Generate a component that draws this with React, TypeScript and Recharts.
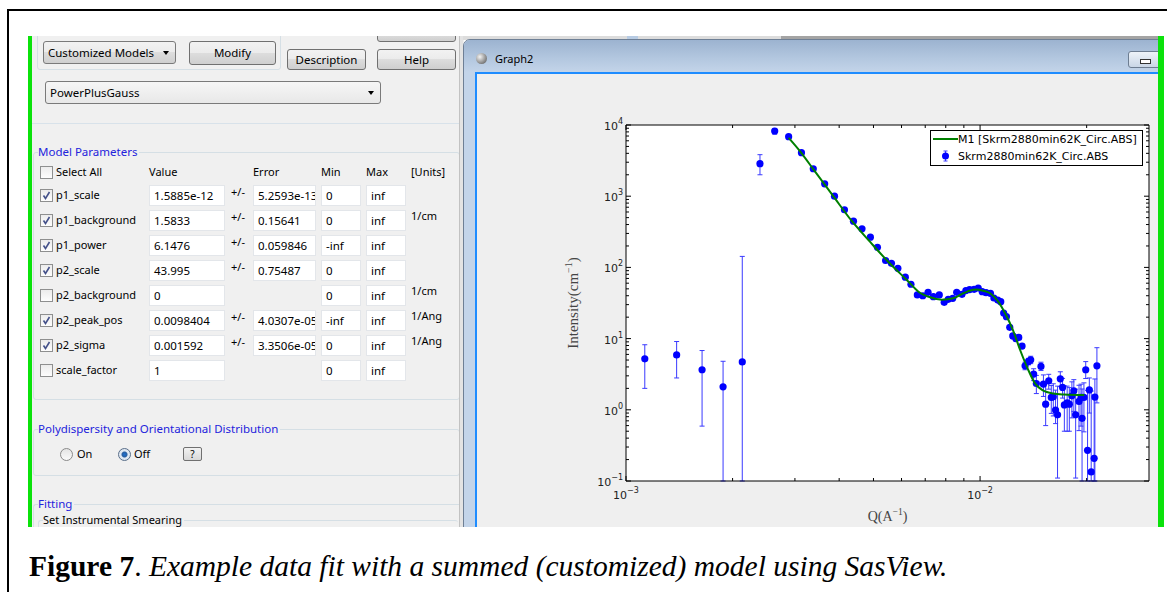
import React from "react";
import { ScatterChart, Scatter, XAxis, YAxis, ErrorBar, CartesianGrid, Legend } from "recharts";

// measured data: Q (1/A), intensity (1/cm), lower / upper error
const qValues = [
  0.00113, 0.00139, 0.00164, 0.00188, 0.00213, 0.00239, 0.00263, 0.00288, 0.00313, 0.00338,
  0.00364, 0.00388, 0.00414, 0.00439, 0.00464, 0.0049, 0.00513, 0.00541, 0.00562, 0.00586,
  0.00615, 0.00638, 0.00665, 0.00689, 0.00713, 0.00738, 0.00767, 0.00792, 0.00813, 0.00837,
  0.00859, 0.00889, 0.00912, 0.00934, 0.00962, 0.00988, 0.01014, 0.0104, 0.0107, 0.01094,
  0.01122, 0.01144, 0.01166, 0.01187, 0.01213, 0.01237, 0.01262, 0.01286, 0.01314, 0.0134,
  0.0137, 0.0139, 0.01417, 0.01442, 0.01486, 0.0151, 0.01532, 0.01563, 0.01589, 0.0161,
  0.01634, 0.01655, 0.01685, 0.0171, 0.0173, 0.01762, 0.01787, 0.01817, 0.0184, 0.01862,
  0.01903, 0.01928, 0.01941, 0.01965, 0.01988, 0.02012, 0.02035, 0.0206, 0.021, 0.0211,
  0.02138,
];
const intensity = [
  5.2, 5.9, 3.65, 2.1, 4.7, 2860, 8240, 6850, 4080, 2430,
  1490, 1000, 645, 446, 348, 266, 192, 125, 114, 97,
  73, 58, 41, 40, 44.7, 38.8, 41, 32.3, 35.6, 36.8,
  44.7, 41.9, 47.2, 48.8, 49.2, 51.4, 45.6, 44.2, 43.2, 37.2,
  34.8, 33.0, 22.9, 20.3, 14.4, 10.9, 10.0, 10.4, 7.85, 4.15,
  4.78, 5.05, 3.17, 2.34, 4.06, 2.29, 1.2, 2.55, 1.49, 1.52,
  0.99, 0.85, 2.72, 2.06, 1.17, 1.25, 1.2, 1.57, 1.85, 0.85,
  1.31, 1.49, 0.76, 1.49, 3.65, 0.27, 1.9, 0.134, 0.208, 1.51,
  4.15,
];
// bars that run off the bottom of the axes stop at its lower limit (0.1)
const errLow = [
  3.2, 3.1, 3.06, 2.0, 4.6, 860, 800, 300, 180, 100,
  60, 40, 25, 18, 14, 10, 8, 5, 5, 4,
  3, 2.5, 2, 2, 2, 1.8, 1.8, 1.6, 1.6, 1.6,
  1.8, 1.8, 1.9, 1.9, 1.9, 2, 1.8, 1.8, 1.8, 1.6,
  1.5, 1.5, 1.2, 1.1, 0.9, 0.7, 0.7, 0.7, 0.6, 0.5,
  0.5, 0.6, 0.6, 0.65, 0.5, 0.75, 0.6, 0.6, 0.6, 0.7,
  0.35, 0.74, 0.6, 0.6, 0.67, 0.75, 0.7, 0.8, 0.9, 0.74,
  0.8, 0.9, 0.66, 1.0, 0.9, 0.17, 1.0, 0.034, 0.108, 1.41,
  2.9,
];
const errHigh = [
  3.0, 3.2, 3.15, 2.7, 138, 970, 700, 300, 180, 100,
  60, 40, 25, 18, 14, 10, 8, 5, 5, 4,
  3, 2.5, 2, 2, 2, 1.8, 1.8, 1.6, 1.6, 1.6,
  1.8, 1.8, 1.9, 1.9, 1.9, 2, 1.8, 1.8, 1.8, 1.6,
  1.5, 1.5, 1.2, 1.1, 0.9, 0.7, 0.7, 0.7, 0.6, 0.5,
  0.5, 0.6, 0.6, 0.7, 0.6, 0.8, 1.2, 0.6, 0.7, 0.8,
  0.9, 1.3, 0.7, 0.7, 1.0, 0.9, 0.85, 0.9, 0.8, 1.1,
  0.9, 0.8, 1.2, 0.9, 1.1, 1.6, 0.9, 1.7, 1.4, 1.2,
  3.3,
];

// model curve M1
const fitQ = [
  0.00288, 0.00313, 0.0034, 0.00384, 0.00433, 0.0049, 0.00552, 0.00624, 0.0067, 0.00723,
  0.0078, 0.0084, 0.009, 0.0097, 0.0102, 0.0107, 0.0112, 0.0118, 0.0124, 0.013,
  0.01365, 0.0143, 0.015, 0.0161, 0.0173, 0.0197,
];
const fitI = [
  6600, 4040, 2300, 1020, 456, 226, 118, 65, 45.6, 38,
  35.2, 36.8, 43.7, 48.8, 47, 43, 34.1, 22.1, 12.9, 6.75,
  3.73, 2.35, 1.89, 1.69, 1.64, 1.61,
];

const xTicks = [0.001, 0.002, 0.003, 0.004, 0.005, 0.006, 0.007, 0.008, 0.009, 0.01, 0.02];
const yTicks = [
  0.1, 0.2, 0.3, 0.4, 0.5, 0.6, 0.7, 0.8, 0.9,
  1, 2, 3, 4, 5, 6, 7, 8, 9,
  10, 20, 30, 40, 50, 60, 70, 80, 90,
  100, 200, 300, 400, 500, 600, 700, 800, 900,
  1000, 2000, 3000, 4000, 5000, 6000, 7000, 8000, 9000, 10000,
];

const legendFit = "M1 [Skrm2880min62K_Circ.ABS]";
const legendData = "Skrm2880min62K_Circ.ABS";

const points = qValues.map((q, k) => ({ q, intensity: intensity[k], err: [errLow[k], errHigh[k]] }));
const fit = fitQ.map((q, k) => ({ q, intensity: fitI[k] }));

const TM = 8;
const TICK_FONT = "'DejaVu Sans', sans-serif";
const isDecade = (v: number) => Math.abs(Math.log10(v) - Math.round(Math.log10(v))) < 1e-6;
const expOf = (v: number) => {
  const e = Math.round(Math.log10(v));
  return e < 0 ? "\u2212" + Math.abs(e) : String(e);
};

function BottomTick(props: any) {
  const { x, y, payload } = props;
  const base = y - TM;
  const major = isDecade(payload.value);
  return (
    <g>
      <line x1={x} x2={x} y1={base} y2={base - (major ? 5 : 3)} stroke="#000" />
      {major ? (
        <text x={x} y={base + 18} textAnchor="middle" fontFamily={TICK_FONT} fontSize={11} fill="#222">
          <tspan>10</tspan>
          <tspan dy={-6} fontSize={8}>{expOf(payload.value)}</tspan>
        </text>
      ) : null}
    </g>
  );
}

function LeftTick(props: any) {
  const { x, y, payload } = props;
  const base = x + TM;
  const major = isDecade(payload.value);
  return (
    <g>
      <line x1={base} x2={base + (major ? 5 : 3)} y1={y} y2={y} stroke="#000" />
      {major ? (
        <text x={base - 3} y={y + 5} textAnchor="end" fontFamily={TICK_FONT} fontSize={11} fill="#222">
          <tspan>10</tspan>
          <tspan dy={-6} fontSize={8}>{expOf(payload.value)}</tspan>
        </text>
      ) : null}
    </g>
  );
}

function TopTick(props: any) {
  const { x, y, payload } = props;
  const base = y + TM;
  const major = isDecade(payload.value);
  return <line x1={x} x2={x} y1={base} y2={base + (major ? 5 : 3)} stroke="#000" />;
}

function RightTick(props: any) {
  const { x, y, payload } = props;
  const base = x - TM;
  const major = isDecade(payload.value);
  return <line x1={base} x2={base - (major ? 5 : 3)} y1={y} y2={y} stroke="#000" />;
}

function YTitle(props: any) {
  const vb = props.viewBox || { x: 0, y: 25, width: 86, height: 356 };
  const cx = vb.x + 38;
  const cy = vb.y + vb.height / 2;
  return (
    <text x={cx} y={cy} textAnchor="middle" transform={`rotate(-90 ${cx} ${cy})`}
      fontFamily="'Liberation Serif', serif" fontSize={15} fill="#444">
      <tspan>Intensity(cm</tspan>
      <tspan dy={-6} fontSize={10}>{"\u22121"}</tspan>
      <tspan dy={6}>)</tspan>
    </text>
  );
}

function XTitle(props: any) {
  const vb = props.viewBox || { x: 86, y: 381, width: 523, height: 49 };
  const cx = vb.x + vb.width / 2;
  return (
    <text x={cx} y={vb.y + 40} textAnchor="middle" fontFamily="'Liberation Serif', serif" fontSize={14} fill="#444">
      <tspan>Q(A</tspan>
      <tspan dy={-6} fontSize={9.5}>{"\u22121"}</tspan>
      <tspan dy={6}>)</tspan>
    </text>
  );
}

function LegendBox() {
  return (
    <div style={{ width: 213, height: 36, boxSizing: "border-box", border: "1px solid #000", background: "#fff",
      fontFamily: TICK_FONT, fontSize: 11, color: "#000", position: "relative" }}>
      <svg width={30} height={34} style={{ position: "absolute", left: 0, top: 0 }}>
        <line x1={2} x2={27} y1={8} y2={8} stroke="#008000" strokeWidth={2} />
        <line x1={14.5} x2={14.5} y1={20} y2={30} stroke="#3a3aff" />
        <line x1={12.5} x2={16.5} y1={20} y2={20} stroke="#3a3aff" />
        <line x1={12.5} x2={16.5} y1={30} y2={30} stroke="#3a3aff" />
        <circle cx={14.5} cy={25} r={3.5} fill="#0000ff" />
      </svg>
      <div style={{ position: "absolute", left: 27, top: 0, lineHeight: "17px", whiteSpace: "nowrap" }}>{legendFit}</div>
      <div style={{ position: "absolute", left: 27, top: 17, lineHeight: "17px", whiteSpace: "nowrap" }}>{legendData}</div>
    </div>
  );
}

function SasChart() {
  return (
    <ScatterChart width={615} height={430} margin={{ top: 20, right: 1, bottom: 0, left: 0 }}>
      <CartesianGrid fill="#fff" stroke="none" horizontal={false} vertical={false} />
      <XAxis dataKey="q" type="number" scale="log" domain={[0.001, 0.03]} allowDataOverflow ticks={xTicks}
        interval={0} height={49} tickSize={0} tickMargin={TM} tickLine={false} tick={BottomTick}
        axisLine={{ stroke: "#000" }} label={XTitle} />
      <XAxis xAxisId="top" orientation="top" dataKey="q" type="number" scale="log" domain={[0.001, 0.03]}
        allowDataOverflow ticks={xTicks} interval={0} height={5} tickSize={0} tickMargin={TM} tickLine={false}
        tick={TopTick} axisLine={{ stroke: "#000" }} />
      <YAxis dataKey="intensity" type="number" scale="log" domain={[0.1, 10000]} allowDataOverflow ticks={yTicks}
        interval={0} width={86} tickSize={0} tickMargin={TM} tickLine={false} tick={LeftTick}
        axisLine={{ stroke: "#000" }} label={YTitle} />
      <YAxis yAxisId="right" orientation="right" dataKey="intensity" type="number" scale="log" domain={[0.1, 10000]}
        allowDataOverflow ticks={yTicks} interval={0} width={5} tickSize={0} tickMargin={TM} tickLine={false}
        tick={RightTick} axisLine={{ stroke: "#000" }} />
      <Legend layout="vertical" align="center" verticalAlign="middle" content={LegendBox}
        wrapperStyle={{ position: "absolute", left: 390, top: 30, width: 213, height: 36, margin: 0 }} />
      <Scatter name={legendData} data={points} isAnimationActive={false}
        shape={(p: any) => <circle cx={p.cx} cy={p.cy} r={3.6} fill="#0000ff" />}>
        <ErrorBar dataKey="err" direction="y" width={2.5} stroke="#3a3aff" strokeWidth={1} />
      </Scatter>
      <Scatter name={legendFit} data={fit} isAnimationActive={false} lineJointType="monotoneX"
        line={{ stroke: "#008000", strokeWidth: 2 }} shape={() => <g />} />
    </ScatterChart>
  );
}

// ---------- window chrome around the chart ----------
const UI_FONT = "'Noto Sans', sans-serif";
const BLUE_TITLE = "#2323dc";

function Box({ x, y, w, h, style, children }: any) {
  return (
    <div style={{ position: "absolute", left: x, top: y, width: w, height: h, boxSizing: "border-box", ...style }}>
      {children}
    </div>
  );
}

function Txt({ x, y, children, color = "#000", size = 11, style }: any) {
  return (
    <div style={{ position: "absolute", left: x, top: y - 8, height: 16, lineHeight: "16px", fontSize: size,
      fontFamily: UI_FONT, color, whiteSpace: "nowrap", ...style }}>
      {children}
    </div>
  );
}

function Button({ x, y, w, h, label }: any) {
  return (
    <Box x={x} y={y} w={w} h={h} style={{ border: "1px solid #707070", borderRadius: 3,
      background: "linear-gradient(#f2f2f2, #ebebeb 50%, #dddddd 50%, #cfcfcf)", textAlign: "center",
      lineHeight: h - 2 + "px", fontFamily: UI_FONT, fontSize: 11.5 }}>
      {label}
    </Box>
  );
}

function Combo({ x, y, w, h, label, grad }: any) {
  return (
    <Box x={x} y={y} w={w} h={h} style={{ border: "1px solid #7a7a7a", borderRadius: 3,
      background: grad ? "linear-gradient(#f2f2f2, #ebebeb 50%, #dddddd 50%, #cfcfcf)" : "linear-gradient(#f6f6f6, #e8e8e8)",
      fontFamily: UI_FONT, fontSize: 11.5, lineHeight: h - 2 + "px", paddingLeft: 4 }}>
      {label}
      <div style={{ position: "absolute", right: 6, top: (h - 2) / 2 - 2, width: 0, height: 0,
        borderLeft: "3.5px solid transparent", borderRight: "3.5px solid transparent", borderTop: "4px solid #000" }} />
    </Box>
  );
}

function Check({ x, y, on }: any) {
  return (
    <Box x={x} y={y - 6} w={13} h={13} style={{ border: "1px solid #8e8f8f", background: "linear-gradient(#ececec, #fdfdfd)" }}>
      {on ? (
        <svg width={11} height={11} style={{ position: "absolute", left: 0, top: 0 }}>
          <polyline points="2.5,5.5 4.5,8.5 8.5,2" fill="none" stroke="#44518a" strokeWidth={1.6} />
        </svg>
      ) : null}
    </Box>
  );
}

function Field({ x, y, w, text }: any) {
  return (
    <Box x={x} y={y - 10} w={w} h={21} style={{ border: "1px solid #e3e6ea", background: "#fff", overflow: "hidden",
      fontFamily: UI_FONT, fontSize: 11.5, lineHeight: "19px", paddingLeft: 4, whiteSpace: "nowrap" }}>
      {text}
    </Box>
  );
}

function Group({ x, y, w, h, title }: any) {
  return (
    <>
      <Box x={x} y={y} w={w} h={h} style={{ border: "1px solid #d5dfe5", borderRadius: 3 }} />
      {title ? (
        <Txt x={x + 5} y={y} color={BLUE_TITLE} size={11.5} style={{ background: "#f0f0f0", paddingRight: 2 }}>{title}</Txt>
      ) : null}
    </>
  );
}

const params = [
  { name: "p1_scale", on: true, value: "1.5885e-12", err: "5.2593e-13", min: "0", max: "inf", unit: "" },
  { name: "p1_background", on: true, value: "1.5833", err: "0.15641", min: "0", max: "inf", unit: "1/cm" },
  { name: "p1_power", on: true, value: "6.1476", err: "0.059846", min: "-inf", max: "inf", unit: "" },
  { name: "p2_scale", on: true, value: "43.995", err: "0.75487", min: "0", max: "inf", unit: "" },
  { name: "p2_background", on: false, value: "0", err: "", min: "0", max: "inf", unit: "1/cm" },
  { name: "p2_peak_pos", on: true, value: "0.0098404", err: "4.0307e-05", min: "-inf", max: "inf", unit: "1/Ang" },
  { name: "p2_sigma", on: true, value: "0.001592", err: "3.3506e-05", min: "0", max: "inf", unit: "1/Ang" },
  { name: "scale_factor", on: false, value: "1", err: "", min: "0", max: "inf", unit: "" },
];

function LeftPanel() {
  return (
    <>
      <Box x={28} y={36} w={436} h={491} style={{ background: "#f0f0f0" }} />
      <Group x={37} y={28} w={244} h={42} />
      <Combo x={43} y={41} w={133} h={23} label="Customized Models" grad />
      <Button x={189} y={41} w={87} h={24} label="Modify" />
      <Button x={287} y={49} w={79} h={21} label="Description" />
      <Button x={377} y={27} w={79} h={15} label="" />
      <Button x={377} y={49} w={79} h={21} label="Help" />
      <Combo x={45} y={81} w={336} h={23} label="PowerPlusGauss" />
      <Box x={32} y={123} w={431} h={1} style={{ background: "#d8e2ea" }} />

      <Group x={33} y={152} w={427} h={248} title="Model Parameters" />
      <Check x={40} y={172} on={false} />
      <Txt x={56} y={172}>Select All</Txt>
      <Txt x={149} y={172}>Value</Txt>
      <Txt x={253} y={172}>Error</Txt>
      <Txt x={321} y={172}>Min</Txt>
      <Txt x={366} y={172}>Max</Txt>
      <Txt x={411} y={172}>[Units]</Txt>
      {params.map((p, k) => {
        const cy = 195 + 25 * k;
        return (
          <React.Fragment key={p.name}>
            <Check x={40} y={cy} on={p.on} />
            <Txt x={56} y={cy}>{p.name}</Txt>
            <Field x={149} y={cy} w={76} text={p.value} />
            {p.err ? <Txt x={231} y={cy - 3}>+/-</Txt> : null}
            {p.err ? <Field x={253} y={cy} w={63} text={p.err} /> : null}
            <Field x={321} y={cy} w={40} text={p.min} />
            <Field x={366} y={cy} w={40} text={p.max} />
            {p.unit ? <Txt x={411} y={cy - 4}>{p.unit}</Txt> : null}
          </React.Fragment>
        );
      })}

      <Group x={33} y={429} w={427} h={47} title="Polydispersity and Orientational Distribution" />
      <Box x={60} y={448} w={13} h={13} style={{ border: "1px solid #8a8a8a", borderRadius: "50%", background: "linear-gradient(#e4e4e4, #fafafa)" }} />
      <Txt x={77} y={454}>On</Txt>
      <Box x={118} y={448} w={13} h={13} style={{ border: "1px solid #5a6f8a", borderRadius: "50%", background: "radial-gradient(circle, #1c6fd0 0, #2a5fa0 2.5px, #dfe7f1 3.5px)" }} />
      <Txt x={134} y={454}>Off</Txt>
      <Box x={183} y={447} w={19} h={14} style={{ border: "1px solid #707070", borderRadius: 2, background: "linear-gradient(#f2f2f2, #d8d8d8)",
        fontFamily: UI_FONT, fontSize: 10, lineHeight: "12px", textAlign: "center" }}>?</Box>

      <Box x={33} y={504} w={431} h={40} style={{ borderTop: "1px solid #d5dfe5", borderLeft: "1px solid #d5dfe5", borderRadius: 3 }} />
      <Txt x={38} y={504} color={BLUE_TITLE} size={11.5} style={{ background: "#f0f0f0", paddingRight: 2 }}>Fitting</Txt>
      <Box x={38} y={520} w={420} h={20} style={{ borderTop: "1px solid #d5dfe5", borderLeft: "1px solid #d5dfe5", borderRadius: 3 }} />
      <Txt x={43} y={520} style={{ background: "#f0f0f0", paddingRight: 2 }}>Set Instrumental Smearing</Txt>
      <Box x={459} y={36} w={4} h={491} style={{ background: "#e3e3e3", borderLeft: "1px solid #c2c2c2" }} />
    </>
  );
}

function GraphWindow() {
  return (
    <>
      <Box x={463} y={36} w={700} h={4} style={{ background: "#dcdcdc" }} />
      <Box x={627} y={36} w={11} h={4} style={{ background: "#b7cbe3" }} />
      <Box x={781} y={36} w={380} h={4} style={{ background: "#a4a4a4" }} />
      <Box x={463} y={39} w={720} h={500} style={{ border: "1px solid #6e7f95", borderRadius: "7px 7px 0 0",
        background: "#c3d4e9" }} />
      <Box x={464} y={40} w={718} h={32} style={{ borderRadius: "6px 6px 0 0", background: "linear-gradient(#9cb3d0, #b4c8e0 60%, #c3d4e9)" }} />
      <Box x={476} y={53} w={11} h={11} style={{ borderRadius: "50%", background: "radial-gradient(circle at 35% 35%, #f4f4f4, #7d7d7d 70%, #555)" }} />
      <Txt x={495} y={59} size={11}>Graph2</Txt>
      <Box x={1128} y={51} w={40} h={17} style={{ border: "1px solid #6d7d91", borderRadius: 3, background: "linear-gradient(#eef3f9, #c9d6e6)" }}>
        <div style={{ position: "absolute", left: 11, top: 7, width: 9, height: 3, border: "1px solid #333", background: "#fff" }} />
      </Box>
      <Box x={475} y={72} w={700} h={470} style={{ borderTop: "2px solid #1e8cff", borderLeft: "2px solid #1e8cff", background: "#efefef" }} />
      <div style={{ position: "absolute", left: 540, top: 100 }}>
        <SasChart />
      </div>
    </>
  );
}

export default function App() {
  return (
    <div style={{ position: "absolute", left: 0, top: 0, width: 1167, height: 592, background: "#fff", overflow: "hidden" }}>
      <Box x={7} y={9} w={1170} h={600} style={{ borderTop: "2px solid #000", borderLeft: "2px solid #000" }} />
      <Box x={28} y={36} w={1136} h={491} style={{ overflow: "hidden" }}>
        <div style={{ position: "absolute", left: -28, top: -36, width: 1167, height: 592 }}>
          <LeftPanel />
          <GraphWindow />
          <Box x={28} y={36} w={4} h={491} style={{ background: "#0be20b" }} />
          <Box x={1158} y={36} w={6} h={491} style={{ background: "#0be20b" }} />
        </div>
      </Box>
      <div style={{ position: "absolute", left: 29, top: 552, fontFamily: "'Liberation Serif', serif", fontSize: 29.5,
        lineHeight: "29px", whiteSpace: "nowrap", color: "#000" }}>
        <b>Figure 7</b>. <i>Example data fit with a summed (customized) model using SasView.</i>
      </div>
    </div>
  );
}
